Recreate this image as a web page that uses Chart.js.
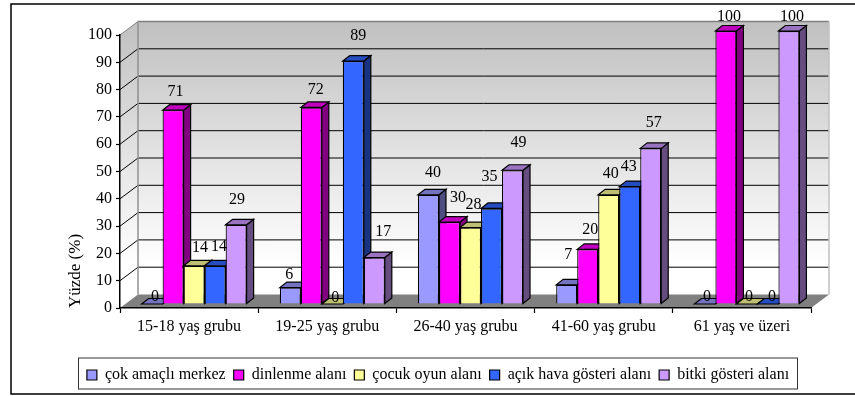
<!DOCTYPE html>
<html>
<head>
<meta charset="utf-8">
<style>
  body { margin: 0; background: #fff; }
  canvas { display: block; }
</style>
<script src="https://cdn.jsdelivr.net/npm/chart.js@4"></script>
</head>
<body>
<canvas id="chart" width="855" height="396"></canvas>
<script>
// chart data
const categories = ['15-18 yaş grubu', '19-25 yaş grubu', '26-40 yaş grubu', '41-60 yaş grubu', '61 yaş ve üzeri'];
const cokAmacli = [0, 6, 40, 7, 0];
const dinlenme = [71, 72, 30, 20, 100];
const cocukOyun = [14, 0, 28, 40, 0];
const acikHava = [14, 89, 35, 43, 0];
const bitki = [29, 17, 49, 57, 100];

const serif = 'Liberation Serif';
const colors = ['#9999ff', '#ff00ff', '#ffff99', '#3366ff', '#cc99ff'];

// the value labels were placed by hand in the original, offset from each bar top [dx, dy]
const labelNudge = [
  [[3, -7], [2.5, -18], [6, -18], [4, -19], [1, -25]],
  [[-1, -13], [4.5, -18], [3, -6], [5, -25], [9, -26]],
  [[4.5, -22], [8.5, -24], [3, -23], [-2, -32], [6, -27]],
  [[1.5, -30], [2.5, -20], [2, -21], [-1, -20], [3, -26]],
  [[2, -7], [3, -14], [2, -7], [4, -7], [3, -14]],
];

// how far the back wall and the bars sit behind the front axis plane
const wallDepth = { x: 18, y: 13.5 };
const barShift = { x: 5, y: -4 };
const barDepth = { x: 7, y: 5.5 };

function shade(hex, f) {
  const n = parseInt(hex.slice(1), 16);
  const r = Math.round((n >> 16) * f);
  const g = Math.round(((n >> 8) & 255) * f);
  const b = Math.round((n & 255) * f);
  return `rgb(${r},${g},${b})`;
}

function poly(ctx, pts, fill, stroke, width) {
  ctx.beginPath();
  pts.forEach((p, i) => (i ? ctx.lineTo(p[0], p[1]) : ctx.moveTo(p[0], p[1])));
  ctx.closePath();
  if (fill) {
    ctx.fillStyle = fill;
    ctx.fill();
  }
  if (stroke) {
    ctx.strokeStyle = stroke;
    ctx.lineWidth = width;
    ctx.stroke();
  }
}

function line(ctx, x1, y1, x2, y2, color, width) {
  ctx.beginPath();
  ctx.moveTo(x1, y1);
  ctx.lineTo(x2, y2);
  ctx.strokeStyle = color;
  ctx.lineWidth = width;
  ctx.stroke();
}

// walls, floor, frame and legend box, all behind the axes
const wallsPlugin = {
  id: 'walls',
  beforeDraw(chart) {
    const { ctx, chartArea: a, scales: { y }, legend } = chart;
    const dx = wallDepth.x, dy = wallDepth.y;
    ctx.save();

    const grad = ctx.createLinearGradient(0, a.top - dy, 0, a.bottom - dy - 30);
    grad.addColorStop(0, '#c0c0c0');
    grad.addColorStop(1, '#ffffff');
    poly(ctx, [[a.left + dx, a.top - dy], [a.right + dx, a.top - dy], [a.right + dx, a.bottom - dy], [a.left + dx, a.bottom - dy]], grad);
    poly(ctx, [[a.left, a.top], [a.left + dx, a.top - dy], [a.left + dx, a.bottom - dy], [a.left, a.bottom]], grad);
    poly(ctx, [[a.left, a.bottom], [a.left + dx, a.bottom - dy], [a.right + dx, a.bottom - dy], [a.right, a.bottom]], '#808080');

    y.ticks.forEach(t => {
      const py = y.getPixelForValue(t.value);
      if (t.value > 0) {
        const top = t.value === 100;
        line(ctx, a.left + dx, py - dy, a.right + dx, py - dy, top ? '#808080' : '#000', top ? 1.5 : 1);
        line(ctx, a.left, py, a.left + dx, py - dy, top ? '#808080' : '#000', 1);
      }
    });
    line(ctx, a.left + dx, a.top - dy, a.left + dx, a.bottom - dy, '#909090', 1.5);
    line(ctx, a.right + dx, a.top - dy, a.right + dx, a.bottom - dy, '#c0c0c0', 1.5);

    // outer frame, the right side runs off the picture
    ctx.beginPath();
    ctx.moveTo(chart.width, 4);
    ctx.lineTo(11, 4);
    ctx.lineTo(11, 394);
    ctx.lineTo(chart.width, 394);
    ctx.strokeStyle = '#000';
    ctx.lineWidth = 1.5;
    ctx.stroke();

    ctx.strokeStyle = '#333';
    ctx.lineWidth = 1;
    ctx.strokeRect(78.5, legend.top - 1, 719, 31);
    ctx.restore();
  },
  // the library would paint the last dataset first, the bars have to go left to right
  beforeDatasetDraw() {
    return false;
  },
  afterDatasetsDraw(chart) {
    const { ctx } = chart;
    ctx.save();
    ctx.translate(barShift.x, barShift.y);
    chart.data.datasets.forEach((ds, s) => {
      chart.getDatasetMeta(s).data.forEach(bar => {
        const l = bar.x - bar.width / 2, r = bar.x + bar.width / 2;
        const ddx = barDepth.x, ddy = barDepth.y;
        // side and top faces, the front face is the library's own bar
        poly(ctx, [[r, bar.y], [r + ddx, bar.y - ddy], [r + ddx, bar.base - ddy], [r, bar.base]], shade(colors[s], 0.5), '#000', 1.2);
        poly(ctx, [[l, bar.y], [l + ddx, bar.y - ddy], [r + ddx, bar.y - ddy], [r, bar.y]], shade(colors[s], 0.75), '#000', 1.2);
        bar.draw(ctx);
      });
    });
    ctx.restore();

    ctx.save();
    ctx.font = `16px "${serif}"`;
    ctx.fillStyle = '#000';
    ctx.textAlign = 'center';
    ctx.textBaseline = 'middle';
    chart.data.datasets.forEach((ds, s) => {
      chart.getDatasetMeta(s).data.forEach((bar, c) => {
        const n = labelNudge[c][s];
        ctx.fillText(ds.data[c], bar.x + barShift.x + n[0], bar.y + barShift.y + n[1]);
      });
    });
    ctx.restore();
  },
};

const seriesNames = ['çok amaçlı merkez', 'dinlenme alanı', 'çocuk oyun alanı', 'açık hava gösteri alanı', 'bitki gösteri alanı'];
const seriesValues = [cokAmacli, dinlenme, cocukOyun, acikHava, bitki];

new Chart('chart', {
  type: 'bar',
  plugins: [wallsPlugin],
  data: {
    labels: categories,
    datasets: seriesNames.map((name, i) => ({
      label: name,
      data: seriesValues[i],
      backgroundColor: colors[i],
      borderColor: '#000',
      borderWidth: 1.2,
    })),
  },
  options: {
    responsive: false,
    animation: false,
    categoryPercentage: 0.76,
    barPercentage: 1,
    layout: { padding: { left: 65, right: 44, top: 35, bottom: 3 } },
    scales: {
      x: {
        afterFit: s => { s.height = 51; },
        border: { color: '#000', width: 1.5 },
        grid: { drawOnChartArea: false, color: '#000', tickLength: 5, tickWidth: 1.2 },
        ticks: { color: '#000', font: { family: serif, size: 16 }, padding: 4, maxRotation: 0 },
      },
      y: {
        min: 0,
        max: 100,
        afterFit: s => { s.width = 55; },
        border: { color: '#000', width: 1.5 },
        grid: { drawOnChartArea: false, color: '#000', tickLength: 4, tickWidth: 1.2 },
        ticks: { stepSize: 10, color: '#000', font: { family: serif, size: 16 }, padding: 4 },
        title: {
          display: true,
          text: 'Yüzde (%)',
          align: 'start',
          color: '#000',
          font: { family: serif, size: 17 },
          padding: 0,
        },
      },
    },
    plugins: {
      tooltip: { enabled: false },
      legend: {
        position: 'bottom',
        labels: {
          color: '#000',
          boxWidth: 10,
          boxHeight: 10,
          padding: 8,
          font: { family: serif, size: 16 },
        },
      },
    },
  },
});
</script>
</body>
</html>
